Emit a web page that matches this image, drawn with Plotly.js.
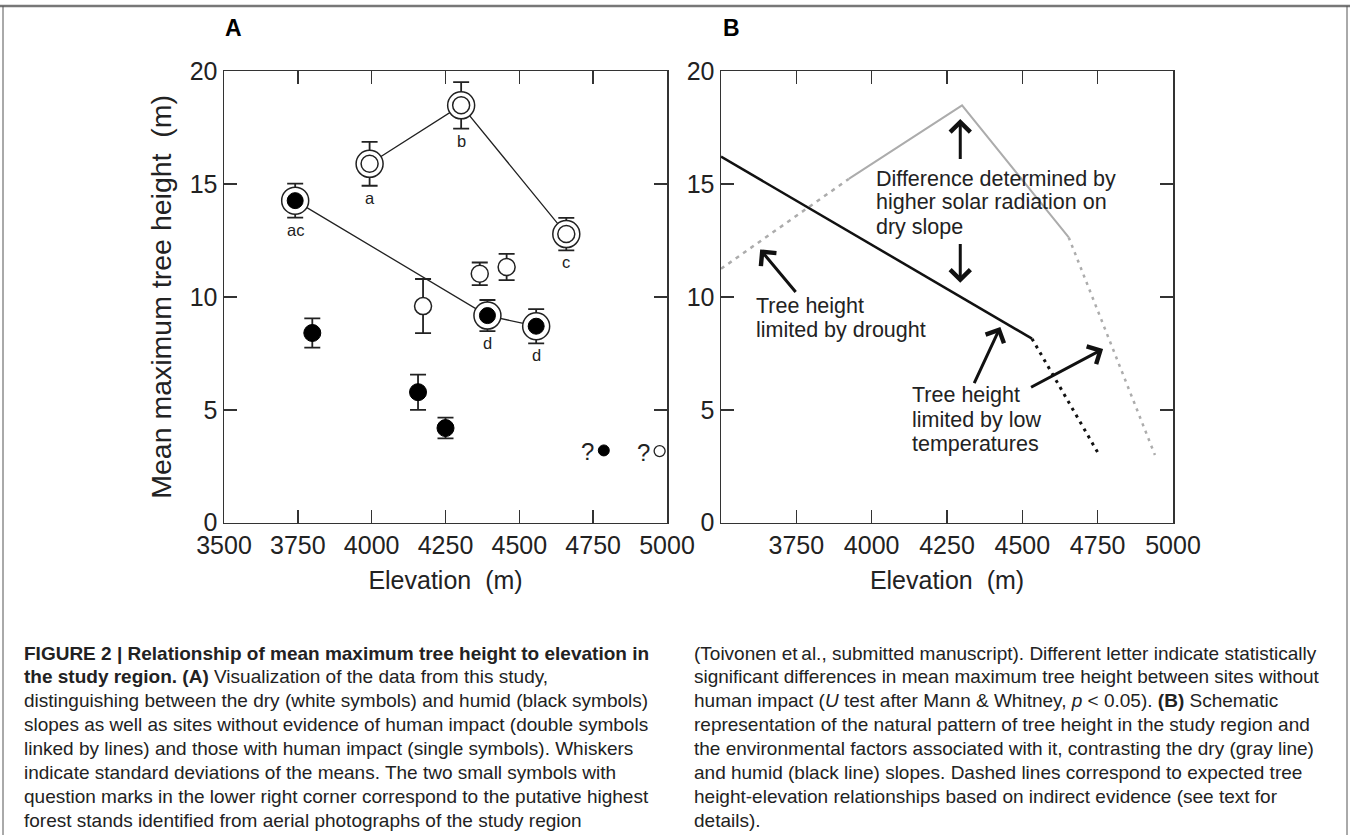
<!DOCTYPE html>
<html><head><meta charset="utf-8">
<script src="https://cdn.plot.ly/plotly-3.0.1.min.js"></script>
<style>html,body{margin:0;padding:0;background:#fff;} #chart{width:1350px;height:835px;}</style>
</head><body><div id="chart"></div>
<script>
// ---------- Panel A data ----------
const humidLinkedX = [3741, 4392, 4557];
const humidLinkedY = [14.26, 9.17, 8.70];
const humidLinkedSD = [0.75, 0.69, 0.76];
const humidLinkedLetters = ['ac', 'd', 'd'];

const dryLinkedX = [3993, 4303, 4659];
const dryLinkedY = [15.89, 18.48, 12.78];
const dryLinkedSD = [0.97, 1.03, 0.72];
const dryLinkedLetters = ['a', 'b', 'c'];

const humidSingleX = [3799, 4157, 4250];
const humidSingleY = [8.40, 5.78, 4.19];
const humidSingleSD = [0.65, 0.78, 0.46];

const drySingleX = [4174, 4366, 4457];
const drySingleY = [9.59, 11.02, 11.32];
const drySingleSD = [1.20, 0.50, 0.58];

const putativeHumidX = [4786], putativeHumidY = [3.2];
const putativeDryX = [4975], putativeDryY = [3.17];

// ---------- Panel B schematic ----------
const humidSolidX = [3500, 4532], humidSolidY = [16.21, 8.15];
const humidDashX = [4532, 4755], humidDashY = [8.15, 3.0];
const drySolidX = [3924, 4300, 4654], drySolidY = [15.22, 18.48, 12.63];
const dryDashLeftX = [3500, 3924], dryDashLeftY = [11.24, 15.22];
const dryDashRightX = [4654, 4940], dryDashRightY = [12.63, 3.0];

const xTicksA = [3500, 3750, 4000, 4250, 4500, 4750, 5000];
const xTicksB = [3750, 4000, 4250, 4500, 4750, 5000];
const yTicks = [0, 5, 10, 15, 20];

// arrows in panel B: [tailX, tailY, tipX, tipY]
const arrowsB = [
  [4294, 16.04, 4294, 17.88],
  [4294, 12.41, 4294, 10.62],
  [3752, 10.15, 3630, 12.10],
  [4338, 6.11, 4427, 8.67],
  [4524, 5.96, 4768, 7.69]
];
// text blocks in panel B: [x, y, text]
const textsB = [
  [4009, 15.22, 'Difference determined by'],
  [4009, 14.19, 'higher solar radiation on'],
  [4009, 13.10, 'dry slope'],
  [3611, 9.59, 'Tree height'],
  [3611, 8.55, 'limited by drought'],
  [4128, 5.64, 'Tree height'],
  [4128, 4.53, 'limited by low'],
  [4128, 3.49, 'temperatures']
];

const captionLeft = [
  '<b>FIGURE 2 | Relationship of mean maximum tree height to elevation in</b>',
  '<b>the study region. (A)</b> Visualization of the data from this study,',
  'distinguishing between the dry (white symbols) and humid (black symbols)',
  'slopes as well as sites without evidence of human impact (double symbols',
  'linked by lines) and those with human impact (single symbols). Whiskers',
  'indicate standard deviations of the means. The two small symbols with',
  'question marks in the lower right corner correspond to the putative highest',
  'forest stands identified from aerial photographs of the study region'
];
const captionRight = [
  '(Toivonen et\u2009al., submitted manuscript). Different letter indicate statistically',
  'significant differences in mean maximum tree height between sites without',
  'human impact (<i>U</i> test after Mann &amp; Whitney, <i>p</i> &lt; 0.05). <b>(B)</b> Schematic',
  'representation of the natural pattern of tree height in the study region and',
  'the environmental factors associated with it, contrasting the dry (gray line)',
  'and humid (black line) slopes. Dashed lines correspond to expected tree',
  'height-elevation relationships based on indirect evidence (see text for',
  'details).'
];

// ---------- layout geometry ----------
const W = 1350, H = 835;
const px = v => v / W, py = v => 1 - v / H;
const FONT = "'Liberation Sans', Arial, Helvetica, sans-serif";
const CAPFONT = "'Liberation Sans', Arial, Helvetica, sans-serif";
const INK = '#222';

const err = arr => ({type: 'data', array: arr, visible: true, color: INK, thickness: 1.8, width: 8});

const traces = [
  // linking lines
  {x: dryLinkedX, y: dryLinkedY, mode: 'lines', line: {color: INK, width: 1.3}, xaxis: 'x', yaxis: 'y'},
  {x: humidLinkedX, y: humidLinkedY, mode: 'lines', line: {color: INK, width: 1.3}, xaxis: 'x', yaxis: 'y'},
  // single symbols
  {x: drySingleX, y: drySingleY, mode: 'markers', error_y: err(drySingleSD),
   marker: {symbol: 'circle', size: 17, color: '#fff', line: {color: INK, width: 1.5}}, xaxis: 'x', yaxis: 'y'},
  {x: humidSingleX, y: humidSingleY, mode: 'markers', error_y: err(humidSingleSD),
   marker: {symbol: 'circle', size: 17, color: '#000', line: {color: '#000', width: 1}}, xaxis: 'x', yaxis: 'y'},
  // double symbols: outer rings
  {x: dryLinkedX, y: dryLinkedY, mode: 'markers', error_y: err(dryLinkedSD),
   marker: {symbol: 'circle', size: 27, color: '#fff', line: {color: INK, width: 1.5}}, xaxis: 'x', yaxis: 'y'},
  {x: humidLinkedX, y: humidLinkedY, mode: 'markers', error_y: err(humidLinkedSD),
   marker: {symbol: 'circle', size: 27, color: '#fff', line: {color: INK, width: 1.5}}, xaxis: 'x', yaxis: 'y'},
  // double symbols: inner
  {x: dryLinkedX, y: dryLinkedY, mode: 'markers',
   marker: {symbol: 'circle', size: 17, color: '#fff', line: {color: INK, width: 1.5}}, xaxis: 'x', yaxis: 'y'},
  {x: humidLinkedX, y: humidLinkedY, mode: 'markers',
   marker: {symbol: 'circle', size: 16, color: '#000', line: {color: '#000', width: 1}}, xaxis: 'x', yaxis: 'y'},
  // putative highest stands
  {x: putativeHumidX, y: putativeHumidY, mode: 'markers',
   marker: {symbol: 'circle', size: 11, color: '#000', line: {color: '#000', width: 1}}, xaxis: 'x', yaxis: 'y'},
  {x: putativeDryX, y: putativeDryY, mode: 'markers',
   marker: {symbol: 'circle', size: 11, color: '#fff', line: {color: INK, width: 1.3}}, xaxis: 'x', yaxis: 'y'},
  // ---------- Panel B ----------
  {x: dryDashLeftX, y: dryDashLeftY, mode: 'lines', line: {color: '#acacac', width: 2.5, dash: '4px,5px'}, xaxis: 'x2', yaxis: 'y2'},
  {x: dryDashRightX, y: dryDashRightY, mode: 'lines', line: {color: '#acacac', width: 2.5, dash: '3px,5px'}, xaxis: 'x2', yaxis: 'y2'},
  {x: drySolidX, y: drySolidY, mode: 'lines', line: {color: '#acacac', width: 2}, xaxis: 'x2', yaxis: 'y2'},
  {x: humidDashX, y: humidDashY, mode: 'lines', line: {color: '#111', width: 3, dash: '3px,5px'}, xaxis: 'x2', yaxis: 'y2'},
  {x: humidSolidX, y: humidSolidY, mode: 'lines', line: {color: '#111', width: 2.5}, xaxis: 'x2', yaxis: 'y2'}
];

const axisCommon = {
  showline: true, linecolor: '#333', linewidth: 1.5, mirror: 'ticks',
  ticks: 'inside', ticklen: 13, tickwidth: 1.5, tickcolor: '#333',
  showgrid: false, zeroline: false, fixedrange: true,
  tickfont: {family: FONT, size: 25, color: INK}
};
const yDomain = [py(522.7), py(71)];
const xTitle = {text: 'Elevation\u00a0\u00a0(m)', font: {family: FONT, size: 25, color: INK}, standoff: 13};

const annotations = [];
// significance letters
function letters(xs, ys, sds, labs) {
  xs.forEach((x, i) => annotations.push({
    x: x, y: ys[i] - sds[i], xref: 'x', yref: 'y', text: labs[i], showarrow: false,
    xanchor: 'center', yanchor: 'middle', yshift: -12, font: {family: FONT, size: 16.5, color: INK}
  }));
}
letters(dryLinkedX, dryLinkedY, dryLinkedSD, dryLinkedLetters);
letters(humidLinkedX, humidLinkedY, humidLinkedSD, humidLinkedLetters);
// question marks
[[putativeHumidX[0], putativeHumidY[0]], [putativeDryX[0], putativeDryY[0]]].forEach(p => annotations.push({
  x: p[0], y: p[1], xref: 'x', yref: 'y', text: '?', showarrow: false, xshift: -16, yshift: -1,
  xanchor: 'center', yanchor: 'middle', font: {family: FONT, size: 24, color: INK}
}));
// panel B text
textsB.forEach(t => annotations.push({
  x: t[0], y: t[1], xref: 'x2', yref: 'y2', text: t[2], showarrow: false,
  xanchor: 'left', yanchor: 'middle', font: {family: FONT, size: 21.5, color: INK}
}));
// panel B arrows
arrowsB.forEach(a => annotations.push({
  x: a[2], y: a[3], ax: a[0], ay: a[1], xref: 'x2', yref: 'y2', axref: 'x2', ayref: 'y2',
  text: '', showarrow: true, arrowhead: 4, arrowsize: 1.3, arrowwidth: 3, arrowcolor: '#111'
}));
// panel letters
annotations.push({x: px(233), y: py(28), xref: 'paper', yref: 'paper', text: '<b>A</b>', showarrow: false,
  xanchor: 'center', yanchor: 'middle', font: {family: FONT, size: 23, color: '#000'}});
annotations.push({x: px(731), y: py(28), xref: 'paper', yref: 'paper', text: '<b>B</b>', showarrow: false,
  xanchor: 'center', yanchor: 'middle', font: {family: FONT, size: 23, color: '#000'}});
// caption
const capTop = 653, capStep = 23.9;
captionLeft.forEach((t, i) => annotations.push({
  x: px(22), y: py(capTop + i * capStep), xref: 'paper', yref: 'paper', text: t, showarrow: false,
  xanchor: 'left', yanchor: 'middle', font: {family: CAPFONT, size: 19, color: '#222'}
}));
captionRight.forEach((t, i) => annotations.push({
  x: px(692), y: py(capTop + i * capStep), xref: 'paper', yref: 'paper', text: t, showarrow: false,
  xanchor: 'left', yanchor: 'middle', font: {family: CAPFONT, size: 19, color: '#222'}
}));

const layout = {
  width: W, height: H, margin: {l: 0, r: 0, t: 0, b: 0},
  paper_bgcolor: '#fff', plot_bgcolor: '#fff', showlegend: false,
  xaxis: Object.assign({}, axisCommon, {domain: [px(224), px(667)], range: [3500, 5000],
    tickvals: xTicksA, anchor: 'y', title: xTitle}),
  yaxis: Object.assign({}, axisCommon, {domain: yDomain, range: [0, 20], tickvals: yTicks, anchor: 'x',
    title: {text: 'Mean maximum tree height\u00a0\u00a0(m)', font: {family: FONT, size: 28.5, color: INK}, standoff: 9}}),
  xaxis2: Object.assign({}, axisCommon, {domain: [px(721), px(1173)], range: [3500, 5000],
    tickvals: xTicksB, anchor: 'y2', title: xTitle}),
  yaxis2: Object.assign({}, axisCommon, {domain: yDomain, range: [0, 20], tickvals: yTicks, anchor: 'x2'}),
  annotations: annotations,
  shapes: [
    {type: 'line', xref: 'paper', yref: 'paper', x0: 0, x1: 1, y0: py(6), y1: py(6), line: {color: '#777', width: 2.5}},
    {type: 'line', xref: 'paper', yref: 'paper', x0: px(3), x1: px(3), y0: 0, y1: py(6), line: {color: '#555', width: 1}},
    {type: 'line', xref: 'paper', yref: 'paper', x0: px(1347), x1: px(1347), y0: 0, y1: py(6), line: {color: '#555', width: 1}}
  ]
};

Plotly.newPlot('chart', traces, layout, {displayModeBar: false, staticPlot: true});
</script>
</body></html>
